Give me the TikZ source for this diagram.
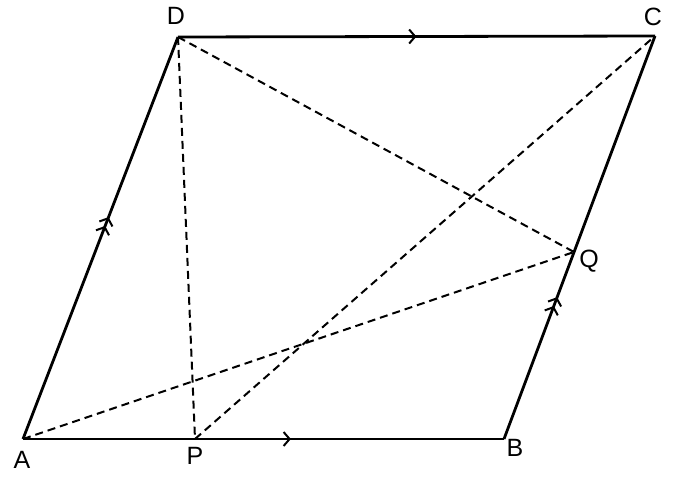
\documentclass[tikz,border=0pt]{standalone}
\usepackage{fontspec}
\setmainfont{Liberation Sans}
\usetikzlibrary{decorations.markings,arrows.meta}
\tikzset{
  side/.style={line width=2.8pt},
  aux/.style={line width=2pt, dash pattern=on 8pt off 5pt},
  lbl/.style={font=\fontsize{25pt}{29pt}\selectfont, inner sep=0pt},
  chev/.style={decoration={markings, mark=at position #1 with {\arrow{Straight Barb[length=6pt,width=14pt,line width=2pt]}}}, postaction={decorate}},
  dchev/.style={decoration={markings,
     mark=at position #1 with {\arrow{Straight Barb[length=6pt,width=14pt,line width=2pt]}},
     mark=at position #1+0.022 with {\arrow{Straight Barb[length=6pt,width=14pt,line width=2pt]}}}, postaction={decorate}}
}
\begin{document}
\begin{tikzpicture}[x=1pt,y=-1pt]
\useasboundingbox (0,0) rectangle (683,479);
\coordinate (A) at (23,439);
\coordinate (B) at (504,439);
\coordinate (C) at (655,36);
\coordinate (D) at (178,37);
\coordinate (P) at (195,439);
\coordinate (Q) at (574,252);
% dashed lines
\draw[aux] (D) -- (P);
\draw[aux] (D) -- (Q);
\draw[aux] (P) -- (C);
\draw[aux] (A) -- (Q);
% sides
\draw[side, chev=0.557] (A) -- (B);
\draw[side, chev=0.50] (D) -- (C);
\draw[side, dchev=0.53] (A) -- (D);
\draw[side, dchev=0.33] (B) -- (C);
% labels
\node[lbl] (lA) at (22,460) {A};
\node[lbl] (lB) at (515,448) {B};
\node[lbl] (lC) at (653,17) {C};
\node[lbl] (lD) at (176,16) {D};
\node[lbl] (lP) at (195,456) {P};
\node[lbl] (lQ) at (589,261) {Q};
\end{tikzpicture}
\end{document}
